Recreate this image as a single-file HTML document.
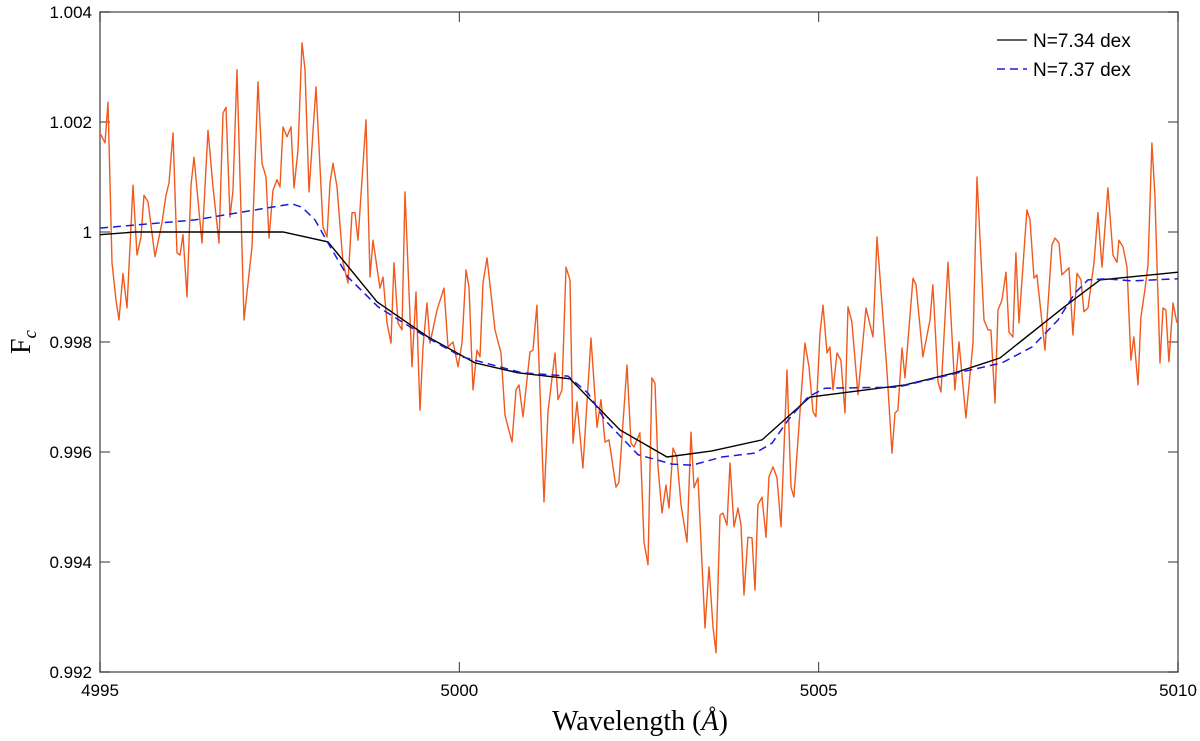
<!DOCTYPE html>
<html><head><meta charset="utf-8"><style>
html,body{margin:0;padding:0;background:#fff;}
svg{display:block;font-family:"Liberation Sans",sans-serif;}
</style></head><body>
<svg id="chart" width="1200" height="741" viewBox="0 0 1200 741" xmlns="http://www.w3.org/2000/svg">
<g id="axes"></g>
<g id="series"></g>
<text x="640" y="730" text-anchor="middle" font-family="Liberation Serif, serif" font-size="28">Wavelength (<tspan font-style="italic">Å</tspan>)</text>
<text transform="translate(30,342) rotate(-90)" text-anchor="middle" font-family="Liberation Serif, serif" font-size="28">F<tspan font-style="italic" font-size="19" dy="6">c</tspan></text>
<g>
<line x1="997" y1="40" x2="1027" y2="40" stroke="#000" stroke-width="1.3"/>
<text x="1033" y="47" font-size="19">N=7.34 dex</text>
<line x1="997" y1="69" x2="1027" y2="69" stroke="#1a1adf" stroke-width="1.5" stroke-dasharray="8,5"/>
<text x="1033" y="76" font-size="19">N=7.37 dex</text>
</g>
</svg>
<script>
const xTicks=[4995,5000,5005,5010];
const xTickLabels=["4995","5000","5005","5010"];
const yTicks=[0.992,0.994,0.996,0.998,1.0,1.002,1.004];
const yTickLabels=["0.992","0.994","0.996","0.998","1","1.002","1.004"];
const obsX=[4995.000,4995.070,4995.111,4995.167,4995.223,4995.264,4995.320,4995.376,4995.459,4995.515,4995.570,4995.612,4995.668,4995.765,4995.862,4995.918,4995.960,4996.016,4996.071,4996.113,4996.155,4996.211,4996.266,4996.308,4996.419,4996.503,4996.572,4996.656,4996.711,4996.753,4996.809,4996.851,4996.906,4997.004,4997.115,4997.198,4997.254,4997.310,4997.351,4997.407,4997.463,4997.504,4997.546,4997.602,4997.658,4997.699,4997.755,4997.811,4997.852,4997.908,4998.005,4998.103,4998.159,4998.200,4998.242,4998.298,4998.381,4998.451,4998.506,4998.548,4998.590,4998.701,4998.757,4998.799,4998.896,4998.938,4998.993,4999.049,4999.091,4999.146,4999.202,4999.244,4999.341,4999.397,4999.452,4999.494,4999.550,4999.592,4999.689,4999.786,4999.842,4999.912,4999.981,5000.037,5000.093,5000.134,5000.190,5000.246,5000.287,5000.329,5000.385,5000.496,5000.580,5000.635,5000.733,5000.788,5000.830,5000.886,5000.983,5001.025,5001.080,5001.178,5001.234,5001.331,5001.373,5001.428,5001.484,5001.540,5001.581,5001.637,5001.720,5001.832,5001.915,5001.971,5002.027,5002.082,5002.180,5002.221,5002.333,5002.388,5002.430,5002.513,5002.569,5002.625,5002.680,5002.722,5002.764,5002.820,5002.875,5002.917,5002.973,5003.028,5003.084,5003.168,5003.223,5003.265,5003.321,5003.418,5003.474,5003.529,5003.571,5003.627,5003.668,5003.724,5003.766,5003.822,5003.877,5003.919,5003.961,5004.016,5004.072,5004.114,5004.155,5004.211,5004.267,5004.309,5004.364,5004.420,5004.476,5004.559,5004.615,5004.656,5004.809,5004.865,5004.921,5004.962,5005.018,5005.060,5005.116,5005.157,5005.199,5005.255,5005.310,5005.366,5005.408,5005.463,5005.547,5005.658,5005.756,5005.811,5005.950,5006.020,5006.062,5006.103,5006.159,5006.201,5006.312,5006.354,5006.451,5006.549,5006.590,5006.660,5006.702,5006.799,5006.896,5006.952,5007.049,5007.147,5007.203,5007.300,5007.356,5007.397,5007.453,5007.495,5007.550,5007.606,5007.648,5007.703,5007.745,5007.787,5007.898,5007.940,5007.996,5008.037,5008.149,5008.246,5008.288,5008.344,5008.385,5008.483,5008.538,5008.594,5008.650,5008.691,5008.747,5008.831,5008.886,5008.942,5009.025,5009.095,5009.151,5009.178,5009.234,5009.290,5009.345,5009.387,5009.443,5009.484,5009.540,5009.582,5009.637,5009.679,5009.749,5009.791,5009.832,5009.874,5009.930,5009.985];
const obsY=[1.00180,1.00162,1.00236,0.99944,0.99876,0.99840,0.99925,0.99862,1.00085,0.99958,0.99991,1.00067,1.00055,0.99955,1.00016,1.00067,1.00089,1.00180,0.99962,0.99958,0.99995,0.99882,1.00085,1.00136,0.99980,1.00185,1.00082,0.99980,1.00216,1.00227,1.00027,1.00076,1.00295,0.99840,0.99973,1.00273,1.00125,1.00100,0.99989,1.00076,1.00095,1.00082,1.00191,1.00173,1.00191,1.00080,1.00149,1.00344,1.00295,1.00073,1.00264,1.00009,0.99991,1.00089,1.00125,1.00082,0.99944,0.99907,1.00035,1.00035,0.99985,1.00204,0.99918,0.99985,0.99898,0.99918,0.99835,0.99798,0.99944,0.99835,0.99822,1.00073,0.99755,0.99891,0.99676,0.99791,0.99871,0.99798,0.99858,0.99898,0.99791,0.99800,0.99755,0.99798,0.99931,0.99900,0.99713,0.99785,0.99773,0.99907,0.99953,0.99822,0.99780,0.99667,0.99618,0.99713,0.99722,0.99664,0.99782,0.99785,0.99867,0.99509,0.99673,0.99780,0.99695,0.99713,0.99936,0.99913,0.99616,0.99691,0.99571,0.99807,0.99645,0.99695,0.99618,0.99622,0.99536,0.99545,0.99758,0.99616,0.99609,0.99635,0.99436,0.99395,0.99735,0.99725,0.99573,0.99489,0.99540,0.99498,0.99607,0.99591,0.99504,0.99436,0.99636,0.99535,0.99553,0.99280,0.99391,0.99282,0.99235,0.99485,0.99489,0.99467,0.99580,0.99464,0.99498,0.99467,0.99340,0.99445,0.99444,0.99349,0.99504,0.99518,0.99445,0.99555,0.99573,0.99553,0.99464,0.99749,0.99536,0.99518,0.99798,0.99755,0.99673,0.99664,0.99816,0.99867,0.99780,0.99791,0.99713,0.99780,0.99767,0.99671,0.99864,0.99836,0.99704,0.99862,0.99809,0.99991,0.99749,0.99598,0.99671,0.99676,0.99789,0.99735,0.99916,0.99904,0.99773,0.99840,0.99904,0.99727,0.99709,0.99945,0.99713,0.99800,0.99662,0.99798,1.00100,0.99840,0.99822,0.99822,0.99689,0.99858,0.99876,0.99927,0.99818,0.99809,0.99962,0.99835,1.00040,1.00022,0.99916,0.99922,0.99785,0.99976,0.99989,0.99980,0.99922,0.99935,0.99813,0.99925,0.99913,0.99855,0.99862,0.99944,1.00035,0.99936,1.00080,0.99958,0.99945,0.99985,0.99973,0.99936,0.99767,0.99809,0.99722,0.99845,0.99895,0.99940,1.00162,1.00067,0.99762,0.99862,0.99858,0.99764,0.99871,0.99835];
const model734X=[4995.000,4995.487,4997.546,4998.172,4998.854,4999.564,5000.218,5000.816,5001.540,5002.235,5002.889,5003.515,5004.211,5004.879,5006.201,5006.896,5007.522,5008.399,5008.914,5010.000];
const model734Y=[0.99995,1.00000,1.00000,0.99982,0.99873,0.99809,0.99762,0.99744,0.99733,0.99640,0.99591,0.99602,0.99622,0.99700,0.99722,0.99744,0.99771,0.99862,0.99913,0.99927];
const model737X=[4995.000,4996.322,4997.338,4997.672,4997.811,4997.992,4998.172,4998.451,4998.868,4999.564,5000.037,5000.872,5001.512,5001.790,5002.027,5002.486,5002.959,5003.237,5003.655,5004.114,5004.350,5004.573,5004.851,5005.088,5006.103,5006.938,5007.550,5007.968,5008.330,5008.566,5008.747,5008.984,5009.360,5010.000];
const model737Y=[1.00007,1.00022,1.00044,1.00051,1.00045,1.00022,0.99980,0.99918,0.99864,0.99807,0.99773,0.99744,0.99738,0.99707,0.99658,0.99595,0.99578,0.99576,0.99591,0.99598,0.99616,0.99658,0.99700,0.99716,0.99718,0.99744,0.99762,0.99791,0.99840,0.99889,0.99913,0.99915,0.99911,0.99915];

const L=100,R=1178,T=12,B=672;
const xMin=4995,xMax=5010,yMin=0.992,yMax=1.004;
function sx(v){return L+(v-xMin)/(xMax-xMin)*(R-L);}
function sy(v){return B-(v-yMin)/(yMax-yMin)*(B-T);}
const NS="http://www.w3.org/2000/svg";
function mk(tag,attrs,parent){const e=document.createElementNS(NS,tag);for(const k in attrs)e.setAttribute(k,attrs[k]);parent.appendChild(e);return e;}
const axes=document.getElementById('axes');
const series=document.getElementById('series');
const frame=mk('rect',{x:L,y:T,width:R-L,height:B-T,fill:'none',stroke:'#666','stroke-width':1.5},axes);


xTicks.forEach((v,i)=>{
  const x=sx(v);
  const t=mk('line',{x1:x,y1:B,x2:x,y2:B-10,stroke:'#333','stroke-width':1},axes);
  
  
  const t2=mk('line',{x1:x,y1:T,x2:x,y2:T+10,stroke:'#333','stroke-width':1},axes);
  
  
  const lb=mk('text',{x:x,y:B+24,'text-anchor':'middle','font-size':17},axes);
  lb.textContent=xTickLabels[i];
  
  
});
yTicks.forEach((v,i)=>{
  const y=sy(v);
  const t=mk('line',{x1:L,y1:y,x2:L+10,y2:y,stroke:'#333','stroke-width':1},axes);
  
  
  const t2=mk('line',{x1:R,y1:y,x2:R-10,y2:y,stroke:'#333','stroke-width':1},axes);
  
  
  const lb=mk('text',{x:L-8,y:y+6,'text-anchor':'end','font-size':17},axes);
  lb.textContent=yTickLabels[i];
  
  
});
function pts(xs,ys){return xs.map((v,i)=>sx(v).toFixed(1)+','+sy(ys[i]).toFixed(1)).join(' ');}
const obs=mk('polyline',{points:pts(obsX,obsY),fill:'none',stroke:'#f05a1e','stroke-width':1.4,'stroke-linejoin':'round'},series);


const m1=mk('polyline',{points:pts(model734X,model734Y),fill:'none',stroke:'#000','stroke-width':1.4},series);


const m2=mk('polyline',{points:pts(model737X,model737Y),fill:'none',stroke:'#1a1adf','stroke-width':1.5,'stroke-dasharray':'8,5'},series);


</script>
</body></html>
